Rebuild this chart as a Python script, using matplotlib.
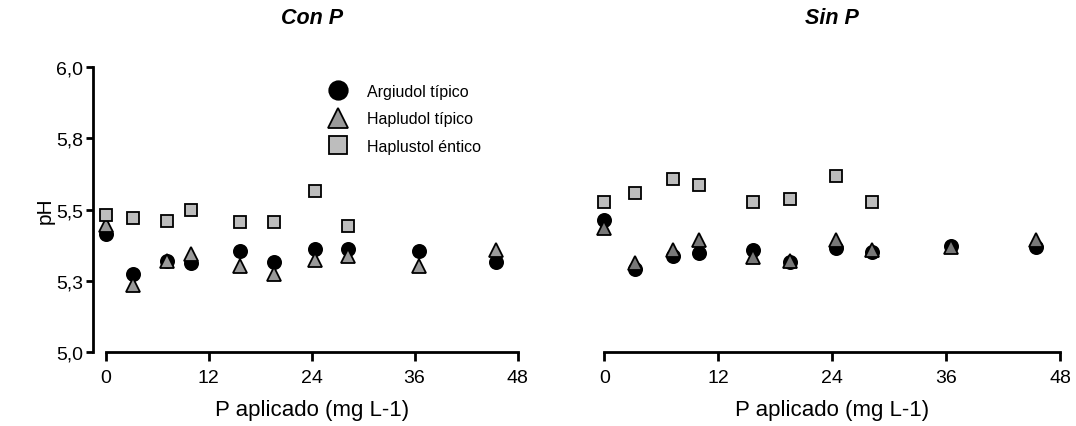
import matplotlib
matplotlib.use("Agg")
import matplotlib.pyplot as plt

plt.rcParams['font.family'] = ['Liberation Sans', 'DejaVu Sans']

# P aplicado (mg L-1)
dosis = [0, 3.2, 7.2, 10, 15.7, 19.6, 24.4, 28.2, 36.5, 45.5]
dosis_haplustol = dosis[:8]

# Con P
argiudol_con = [5.413, 5.275, 5.318, 5.313, 5.356, 5.316, 5.361, 5.361, 5.356, 5.316]
hapludol_con = [5.447, 5.234, 5.318, 5.343, 5.303, 5.275, 5.324, 5.338, 5.302, 5.357]
haplustol_con = [5.480, 5.471, 5.460, 5.499, 5.456, 5.456, 5.566, 5.441]

# Sin P
argiudol_sin = [5.462, 5.290, 5.336, 5.349, 5.357, 5.316, 5.367, 5.351, 5.372, 5.368]
hapludol_sin = [5.437, 5.312, 5.359, 5.392, 5.332, 5.318, 5.392, 5.358, 5.370, 5.392]
haplustol_sin = [5.526, 5.560, 5.607, 5.586, 5.526, 5.539, 5.619, 5.526]

yticks = [5.0, 5.25, 5.5, 5.75, 6.0]
ytick_labels = ['5,0', '5,3', '5,5', '5,8', '6,0']
xticks = [0, 12, 24, 36, 48]

W, H = 1076, 427
fig = plt.figure(figsize=(W / 100, H / 100), dpi=100)
ax1 = fig.add_axes([105.7 / W, (H - 353) / H, 411.8 / W, 284.7 / H])
ax2 = fig.add_axes([604.3 / W, (H - 353) / H, 455.7 / W, 284.7 / H])


def draw(ax, arg, hap, hpl, tri_color):
    kw = dict(linestyle='none', markeredgecolor='black', markeredgewidth=1.3, clip_on=False)
    ax.plot(dosis, arg, marker='o', markersize=9.5, color='black', label='Argiudol típico', **kw)
    ax.plot(dosis, hap, marker='^', markersize=10.5, color=tri_color, label='Hapludol típico', **kw)
    ax.plot(dosis_haplustol, hpl, marker='s', markersize=9, color='#bdbdbd', label='Haplustol éntico', **kw)
    ax.set_xlim(0, 48)
    ax.set_ylim(5.0, 6.0)
    ax.set_xticks(xticks)
    ax.spines['top'].set_visible(False)
    ax.spines['right'].set_visible(False)
    ax.spines['bottom'].set_linewidth(2)
    ax.spines['left'].set_linewidth(2)
    ax.tick_params(axis='x', length=6.5, width=2, pad=6, labelsize=14)
    ax.tick_params(axis='y', length=5, width=2, pad=2, labelsize=14)
    ax.set_xlabel('P aplicado (mg L-1)', fontsize=16, labelpad=9)


draw(ax1, argiudol_con, hapludol_con, haplustol_con, '#9a9a9a')
draw(ax2, argiudol_sin, hapludol_sin, haplustol_sin, '#787878')

ax1.spines['left'].set_position(('outward', 9))
ax1.set_yticks(yticks)
ax1.set_yticklabels(ytick_labels)
ax1.set_ylabel('pH', fontsize=15, labelpad=1.5)

ax2.spines['left'].set_visible(False)
ax2.set_yticks([])

ax1.legend(loc='upper left', bbox_to_anchor=(327.6 / W, 1 - 85 / H),
           bbox_transform=fig.transFigure, frameon=False, fontsize=11.5,
           numpoints=1, markerscale=1.4, handlelength=1.3, handletextpad=1.15,
           labelspacing=0.78, borderpad=0, borderaxespad=0)

fig.text(311.6 / W, 1 - 18 / H, 'Con P', ha='center', va='center',
         fontsize=15.5, fontweight='bold', fontstyle='italic')
fig.text(832 / W, 1 - 18 / H, 'Sin P', ha='center', va='center',
         fontsize=15.5, fontweight='bold', fontstyle='italic')

fig.savefig('out.png', dpi=100)
